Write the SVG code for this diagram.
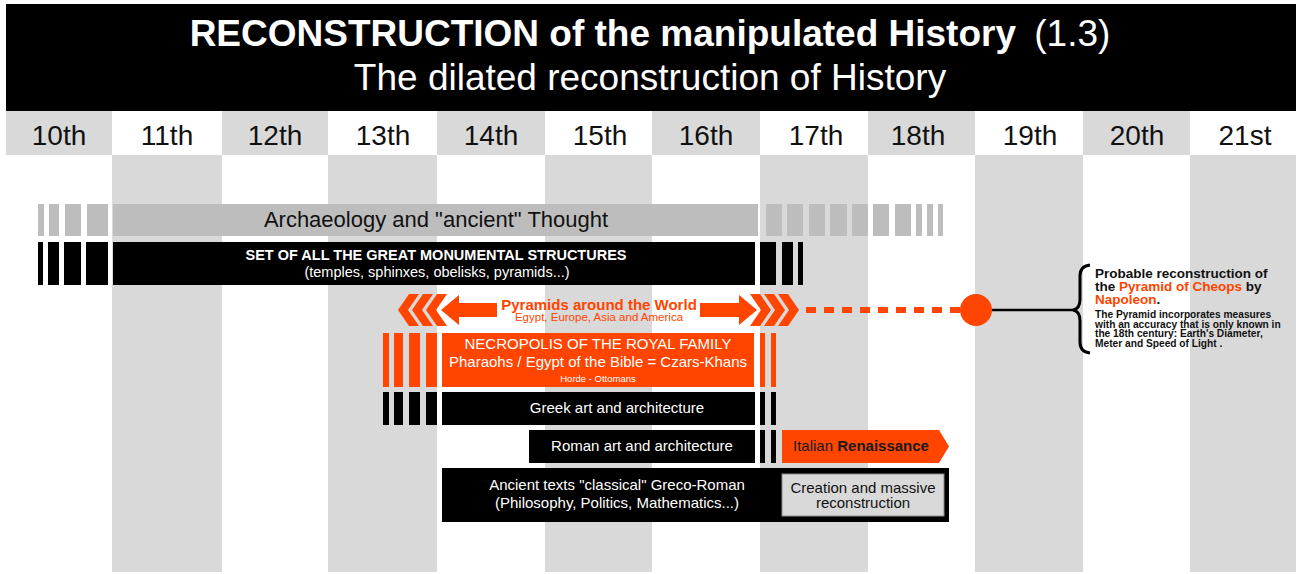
<svg xmlns="http://www.w3.org/2000/svg" width="1300" height="574" viewBox="0 0 1300 574">
<style>
text{font-family:"Liberation Sans",Arial,Helvetica,sans-serif}
.g{fill:#d9d9d9}
.ar{fill:#bdbdbd}
.bk{fill:#000}
.or{fill:#ff4500}
.cent{font-size:28px;fill:#111;text-anchor:middle}
.w{fill:#fff;text-anchor:middle}
.b{font-weight:bold}
</style>
<rect x="0" y="0" width="1300" height="574" fill="#fff"/>
<g id="columns">
  <rect class="g" x="6" y="111" width="106" height="44"/>
  <rect class="g" x="222" y="111" width="106" height="44"/>
  <rect class="g" x="437" y="111" width="108" height="44"/>
  <rect class="g" x="652" y="111" width="108" height="44"/>
  <rect class="g" x="868" y="111" width="107" height="44"/>
  <rect class="g" x="1083" y="111" width="107" height="44"/>
  <rect class="g" x="112" y="155" width="110" height="417"/>
  <rect class="g" x="328" y="155" width="109" height="417"/>
  <rect class="g" x="545" y="155" width="107" height="417"/>
  <rect class="g" x="760" y="155" width="108" height="417"/>
  <rect class="g" x="975" y="155" width="108" height="417"/>
  <rect class="g" x="1190" y="155" width="106" height="417"/>
</g>
<g id="header">
  <rect x="6" y="4" width="1290" height="107" fill="#000"/>
  <text x="650" y="46" font-size="37" fill="#fff" text-anchor="middle" font-weight="bold">RECONSTRUCTION of the manipulated History<tspan font-weight="normal" dx="8"> (1.3)</tspan></text>
  <text x="650" y="90" font-size="37" fill="#fff" text-anchor="middle">The dilated reconstruction of History</text>
</g>
<g id="centuries">
  <text class="cent" x="59" y="145">10th</text>
  <text class="cent" x="167" y="145">11th</text>
  <text class="cent" x="275" y="145">12th</text>
  <text class="cent" x="383" y="145">13th</text>
  <text class="cent" x="491" y="145">14th</text>
  <text class="cent" x="600" y="145">15th</text>
  <text class="cent" x="706" y="145">16th</text>
  <text class="cent" x="816" y="145">17th</text>
  <text class="cent" x="918" y="145">18th</text>
  <text class="cent" x="1030" y="145">19th</text>
  <text class="cent" x="1137" y="145">20th</text>
  <text class="cent" x="1245" y="145">21st</text>
</g>
<g id="archaeology">
  <rect class="ar" x="38" y="204" width="6" height="32"/>
  <rect class="ar" x="49" y="204" width="10" height="32"/>
  <rect class="ar" x="65" y="204" width="16" height="32"/>
  <rect class="ar" x="87" y="204" width="21" height="32"/>
  <rect class="ar" x="113" y="204" width="645" height="32"/>
  <rect class="ar" x="766" y="204" width="16" height="32"/>
  <rect class="ar" x="787" y="204" width="16" height="32"/>
  <rect class="ar" x="809" y="204" width="16" height="32"/>
  <rect class="ar" x="830" y="204" width="17" height="32"/>
  <rect class="ar" x="852" y="204" width="16" height="32"/>
  <rect class="ar" x="873" y="204" width="16" height="32"/>
  <rect class="ar" x="895" y="204" width="16" height="32"/>
  <rect class="ar" x="916" y="204" width="6" height="32"/>
  <rect class="ar" x="927" y="204" width="6" height="32"/>
  <rect class="ar" x="938" y="204" width="5" height="32"/>
  <text x="436" y="227" font-size="22" fill="#111" text-anchor="middle">Archaeology and "ancient" Thought</text>
</g>
<g id="monuments">
  <rect class="bk" x="38" y="242" width="5" height="43"/>
  <rect class="bk" x="48" y="242" width="11" height="43"/>
  <rect class="bk" x="64" y="242" width="17" height="43"/>
  <rect class="bk" x="86" y="242" width="22" height="43"/>
  <rect class="bk" x="113" y="242" width="642" height="43"/>
  <rect class="bk" x="760" y="242" width="16" height="43"/>
  <rect class="bk" x="782" y="242" width="11" height="43"/>
  <rect class="bk" x="798" y="242" width="5" height="43"/>
  <text class="w b" x="436" y="260" font-size="14.5">SET OF ALL THE GREAT MONUMENTAL STRUCTURES</text>
  <text class="w" x="437" y="277" font-size="14.5">(temples, sphinxes, obelisks, pyramids...)</text>
</g>
<g id="pyramids">
  <polygon class="or" points="398,310 409,294 419,294 408,310 419,326 409,326"/>
  <polygon class="or" points="412,310 423,294 433,294 422,310 433,326 423,326"/>
  <polygon class="or" points="426,310 437,294 447,294 436,310 447,326 437,326"/>
  <polygon class="or" points="441,310 459,295 459,303 497,303 497,317 459,317 459,325"/>
  <polygon class="or" points="757,310 739,295 739,303 700,303 700,317 739,317 739,325"/>
  <polygon class="or" points="771,310 760,294 750,294 761,310 750,326 760,326"/>
  <polygon class="or" points="785,310 774,294 764,294 775,310 764,326 774,326"/>
  <polygon class="or" points="799,310 788,294 778,294 789,310 778,326 788,326"/>
  <text x="599" y="310" font-size="15" font-weight="bold" fill="#ff4500" text-anchor="middle">Pyramids around the World</text>
  <text x="599" y="321" font-size="11.5" fill="#ff4500" text-anchor="middle">Egypt, Europe, Asia and America</text>
</g>
<g id="necropolis">
  <rect class="or" x="383" y="333" width="6" height="54"/>
  <rect class="or" x="394" y="333" width="9" height="54"/>
  <rect class="or" x="409" y="333" width="11" height="54"/>
  <rect class="or" x="426" y="333" width="11" height="54"/>
  <rect class="or" x="442" y="333" width="312" height="54"/>
  <rect class="or" x="760" y="333" width="5" height="54"/>
  <rect class="or" x="771" y="333" width="5" height="54"/>
  <text class="w" x="598" y="349" font-size="15">NECROPOLIS OF THE ROYAL FAMILY</text>
  <text class="w" x="598" y="367" font-size="15">Pharaohs / Egypt of the Bible = Czars-Khans</text>
  <text class="w" x="598" y="382" font-size="9.5">Horde - Ottomans</text>
</g>
<g id="greek">
  <rect class="bk" x="383" y="392" width="6" height="33"/>
  <rect class="bk" x="394" y="392" width="9" height="33"/>
  <rect class="bk" x="409" y="392" width="11" height="33"/>
  <rect class="bk" x="426" y="392" width="11" height="33"/>
  <rect class="bk" x="442" y="392" width="313" height="33"/>
  <rect class="bk" x="760" y="392" width="5" height="33"/>
  <rect class="bk" x="771" y="392" width="5" height="33"/>
  <text class="w" x="617" y="413" font-size="15">Greek art and architecture</text>
</g>
<g id="roman">
  <rect class="bk" x="529" y="430" width="226" height="33"/>
  <rect class="bk" x="760" y="430" width="5" height="33"/>
  <rect class="bk" x="771" y="430" width="5" height="33"/>
  <text class="w" x="642" y="451" font-size="15">Roman art and architecture</text>
</g>
<g id="renaissance">
  <polygon class="or" points="782,430 939,430 949,446.5 939,463 782,463"/>
  <text x="793" y="451" font-size="15" fill="#1a1a1a">Italian <tspan font-weight="bold">Renaissance</tspan></text>
</g>
<g id="ancient">
  <rect class="bk" x="442" y="468" width="507" height="54"/>
  <text class="w" x="617" y="490" font-size="15">Ancient texts "classical" Greco-Roman</text>
  <text class="w" x="617" y="508" font-size="15">(Philosophy, Politics, Mathematics...)</text>
</g>
<g id="creation">
  <rect x="782" y="474" width="162" height="42" fill="#d9d9d9" stroke="#8c8c8c" stroke-width="1"/>
  <text x="863" y="493" font-size="15" fill="#111" text-anchor="middle">Creation and massive</text>
  <text x="863" y="508" font-size="15" fill="#111" text-anchor="middle">reconstruction</text>
</g>
<g id="connectors">
  <line x1="806" y1="310" x2="960" y2="310" stroke="#ff4500" stroke-width="6" stroke-dasharray="10 8"/>
  <line x1="992" y1="310" x2="1074" y2="310" stroke="#000" stroke-width="2.5"/>
</g>
<g id="cheops-point">
  <circle cx="976" cy="310" r="16" fill="#ff4500"/>
</g>
<g id="cheops-note">
  <path d="M1090,265 Q1080,266 1080,276 L1080,299 Q1080,309 1073,310 Q1080,311 1080,321 L1080,342 Q1080,352 1090,353" fill="none" stroke="#000" stroke-width="3"/>
  <text x="1095" y="278" font-size="13.5" font-weight="bold" fill="#111">Probable reconstruction of</text>
  <text x="1095" y="291" font-size="13.5" font-weight="bold" fill="#111">the <tspan fill="#ff4500">Pyramid of Cheops</tspan> by</text>
  <text x="1095" y="304" font-size="13.5" font-weight="bold" fill="#111"><tspan fill="#ff4500">Napoleon</tspan>.</text>
  <text x="1095" y="318" font-size="10.2" font-weight="bold" fill="#111">The Pyramid incorporates measures</text>
  <text x="1095" y="327.5" font-size="10.2" font-weight="bold" fill="#111">with an accuracy that is only known in</text>
  <text x="1095" y="337" font-size="10.2" font-weight="bold" fill="#111">the 18th century: Earth's Diameter,</text>
  <text x="1095" y="346.5" font-size="10.2" font-weight="bold" fill="#111">Meter and Speed of Light .</text>
</g>
</svg>
